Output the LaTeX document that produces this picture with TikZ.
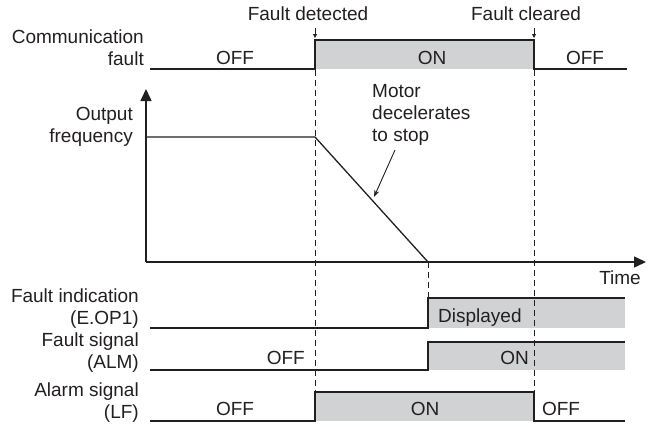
\documentclass[tikz,border=0pt]{standalone}
\usepackage{fontspec}
\setmainfont{Liberation Sans}
\usetikzlibrary{arrows.meta}
\definecolor{ink}{HTML}{231F20}
\definecolor{shade}{HTML}{D1D2D4}

\begin{document}
\begin{tikzpicture}[x=1pt, y=-1pt,
  every node/.style={inner sep=0pt, text=ink, font=\fontsize{19}{22}\selectfont},
  rowlabel/.style={anchor=base east, align=right},
  state/.style={anchor=base},
  wave/.style={draw=ink, line width=1.3pt, line join=miter},
  onbox/.style={fill=shade},
  axis/.style={draw=ink, line width=1.5pt, -{Triangle[length=12pt, width=11pt]}},
  guide/.style={draw=ink, line width=0.8pt, dash pattern=on 6pt off 4pt},
  tick/.style={draw=ink, line width=0.8pt, -{Triangle[length=4pt, width=4pt]}},
  pointer/.style={draw=ink, line width=0.9pt, -{Stealth[length=7pt, width=5pt]}}
]
\useasboundingbox (0,0) rectangle (650,426);

% ---- event markers
\node[state] (fdet) at (308,20) {Fault detected};
\node[state] (fclr) at (526,20) {Fault cleared};
\coordinate (fdetA) at (315,28);
\coordinate (fdetB) at (315,38);
\coordinate (fclrA) at (534,28);
\coordinate (fclrB) at (534,38);
\draw[tick] (fdetA) -- (fdetB);
\draw[tick] (fclrA) -- (fclrB);

% ---- communication fault (multi-line labels sit on their last baseline)
\node[rowlabel] (lcomm) at (144,65) {Communication\\fault};
\fill[onbox] (315,40) rectangle (534,69);
\draw[wave] (150,69) -- (315,69) -- (315,40) -- (534,40) -- (534,69) -- (627,69);
\node[state] (comm1) at (235,64) {OFF};
\node[state] (comm2) at (432,64) {ON};
\node[state] (comm3) at (585,64) {OFF};

% ---- output frequency
\node[rowlabel] (lfreq) at (133,142) {Output\\frequency};
\coordinate (origin) at (146,262);
\coordinate (ytop) at (146,89);
\coordinate (xend) at (646,262);
\draw[axis] (origin) -- (ytop);
\draw[axis] (origin) -- (xend);
\node[anchor=base east] (ltime) at (641,284) {Time};
\coordinate (f0) at (146,137);
\coordinate (f1) at (315,137);
\coordinate (f2) at (428,262);
\draw[wave] (f0) -- (f1) -- (f2);
\node[anchor=base west, align=left] (motor) at (372,141) {Motor\\decelerates\\to stop};
\coordinate (motorA) at (395,150);
\coordinate (ramp) at (374,197);
\draw[pointer] (motorA) -- (ramp);

% ---- fault indication
\node[rowlabel] (lind) at (139,324) {Fault indication\\(E.OP1)};
\fill[onbox] (428,298) rectangle (625,328);
\draw[wave] (150,328) -- (428,328) -- (428,298) -- (625,298);
\node[anchor=base west] (disp) at (438,322) {Displayed};

% ---- fault signal
\node[rowlabel] (lalm) at (139,368) {Fault signal\\(ALM)};
\fill[onbox] (428,342) rectangle (625,370);
\draw[wave] (150,370) -- (428,370) -- (428,342) -- (625,342);
\node[anchor=base east] (alm1) at (305,364) {OFF};
\node[anchor=base east] (alm2) at (529,364) {ON};

% ---- alarm signal
\node[rowlabel] (llf) at (139,418) {Alarm signal\\(LF)};
\fill[onbox] (315,392) rectangle (534,421);
\draw[wave] (150,421) -- (315,421) -- (315,392) -- (534,392) -- (534,421) -- (625,421);
\node[state] (lf1) at (235,415) {OFF};
\node[state] (lf2) at (425,415) {ON};
\node[state] (lf3) at (561,415) {OFF};

% ---- time guides
\draw[guide] (315,40) -- (315,392);
\draw[guide] (534,40) -- (534,392);
\draw[guide] (f2) -- (428,298);
\end{tikzpicture}
\end{document}
